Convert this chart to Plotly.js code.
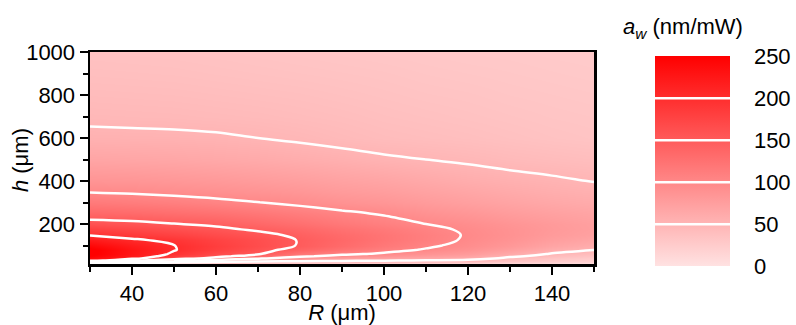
<!DOCTYPE html>
<html>
<head>
<meta charset="utf-8">
<script src="https://cdn.plot.ly/plotly-3.0.1.min.js"></script>
<style>html,body{margin:0;padding:0;background:#fff;}#chart{width:796px;height:325px;}</style>
</head>
<body>
<div id="chart"></div>
<script>
// Ring radius R (µm), columns
const R = [30, 40, 50, 60, 70, 80, 90, 100, 110, 120, 130, 140, 150];
// Height h (µm), rows
const H = [10, 20, 30, 40, 50, 60, 80, 100, 125, 150, 175, 200, 250, 300, 350, 400, 500, 600, 700, 800, 900, 1000];
// a_w (nm/mW), one row per h value, columns follow R
const AW = [
  [0, 0, 0, 0, 0, 0, 0, 0, 0, 0, 0, 0, 0],
  [70, 60, 45, 35, 30, 30, 26, 24, 22, 20, 15, 12, 9],
  [218, 160, 120, 85, 65, 60, 55, 52, 48, 44, 32, 24, 19],
  [240, 210, 165, 140, 104, 85, 76, 72, 66, 60, 44, 34, 27],
  [250, 222, 185, 158, 136, 104, 92, 86, 78, 70, 54, 42, 34],
  [255, 226, 195, 168, 152, 120, 104, 96, 87, 78, 63, 48, 40],
  [256, 227, 201.5, 179, 160, 139, 122, 108, 98, 88, 74, 59, 50.5],
  [243, 220, 200.5, 182, 165.5, 148, 132, 117, 104, 93.5, 82, 68, 59],
  [222, 205, 192, 177, 164, 148.5, 135, 121.5, 109, 97, 87, 75, 67],
  [196, 186, 178, 167, 157, 144, 132, 121, 109.5, 98, 89, 79, 72],
  [178, 170, 163, 156, 146, 136, 125, 116, 106, 96.5, 88.5, 80.5, 74],
  [160, 157, 151, 145, 136, 127, 117, 109, 100, 93.5, 86, 79.5, 73.5],
  [135, 132, 128, 124, 118, 111, 104, 97.5, 89, 83.5, 77, 72, 68],
  [116, 113, 110, 105.5, 100.5, 95, 89, 85, 79, 74, 69, 64.5, 61],
  [99, 97, 94, 91, 88, 84, 79, 76, 71, 66.5, 62, 58, 55],
  [86, 85, 83, 81, 78, 75, 71, 68, 63.5, 59, 55.5, 52.5, 49.5],
  [68, 67, 66, 64, 62, 59, 56, 52.5, 50, 47.5, 44.5, 42.5, 40.5],
  [54, 53.5, 53, 52, 50, 47.5, 44.5, 42, 40.5, 39, 37, 35, 33.5],
  [46.5, 46, 45.5, 44.5, 43.5, 42, 40.5, 38.5, 37, 35.5, 34, 32.5, 31.5],
  [42.5, 42, 41.5, 40.5, 39.5, 38.5, 37, 35.5, 34, 33, 31.5, 30.5, 29.5],
  [39, 38.5, 38, 37, 36, 35, 34, 33, 31.5, 30.5, 29.5, 28.5, 27.5],
  [36, 35.5, 35, 34, 33, 32, 31, 30, 29, 28, 27.5, 26.5, 26]
];
const CBAR_TICKS = [0, 50, 100, 150, 200, 250];

const FONT = 'Liberation Sans, Arial, sans-serif';

const trace = {
  type: 'contour',
  x: R, y: H, z: AW,
  zmin: 0, zmax: 250, zauto: false,
  colorscale: [[0, 'rgb(255,226,226)'], [1, 'rgb(255,0,0)']],
  contours: {start: 50, end: 200, size: 50, coloring: 'heatmap', showlines: true},
  line: {color: '#ffffff', width: 2.5, smoothing: 1},
  hoverinfo: 'skip',
  colorbar: {
    thickness: 75, thicknessmode: 'pixels',
    len: 210, lenmode: 'pixels',
    x: 1.121, xanchor: 'left', xpad: 0,
    y: 0.486, yanchor: 'middle', ypad: 0,
    outlinewidth: 0,
    tickmode: 'array', tickvals: CBAR_TICKS, ticktext: CBAR_TICKS.map(String),
    ticks: 'outside', ticklen: 20, tickcolor: 'rgba(0,0,0,0)',
    tickfont: {family: FONT, size: 22, color: '#000'}
  }
};

const axisCommon = {
  ticks: 'outside', ticklen: 8, tickwidth: 2, tickcolor: '#000',
  showline: true, linewidth: 2.5, linecolor: '#000', mirror: true,
  showgrid: false, zeroline: false,
  tickfont: {family: FONT, size: 22, color: '#000'}
};

const layout = {
  width: 796, height: 325,
  margin: {l: 90, r: 202, t: 52, b: 61, pad: 0, autoexpand: false},
  paper_bgcolor: '#fff', plot_bgcolor: '#fff',
  font: {family: FONT, size: 22, color: '#000'},
  xaxis: Object.assign({}, axisCommon, {
    range: [30, 150], tick0: 0, dtick: 20,
    minor: {tick0: 0, dtick: 10, ticks: 'outside', ticklen: 5, tickwidth: 2, tickcolor: '#000'},
    title: {text: '<i>R</i> (μm)', font: {family: FONT, size: 22, color: '#000'}, standoff: 9}
  }),
  yaxis: Object.assign({}, axisCommon, {
    range: [14, 1000], tick0: 0, dtick: 200,
    minor: {tick0: 0, dtick: 100, ticks: 'outside', ticklen: 5, tickwidth: 2, tickcolor: '#000'}
  }),
  annotations: [{
    xref: 'paper', yref: 'paper', x: 1.1766, y: 1.113,
    xanchor: 'center', yanchor: 'middle', showarrow: false,
    text: '<i>a</i><sub><i>w</i></sub> (nm/mW)',
    font: {family: FONT, size: 22, color: '#000'}
  }, {
    xref: 'paper', yref: 'paper', x: -0.139, y: 0.49,
    xanchor: 'center', yanchor: 'middle', showarrow: false, textangle: -90,
    text: '<i>h</i> (μm)',
    font: {family: FONT, size: 22, color: '#000'}
  }],
  showlegend: false
};

Plotly.newPlot('chart', [trace], layout, {displayModeBar: false, staticPlot: true});
</script>
</body>
</html>
